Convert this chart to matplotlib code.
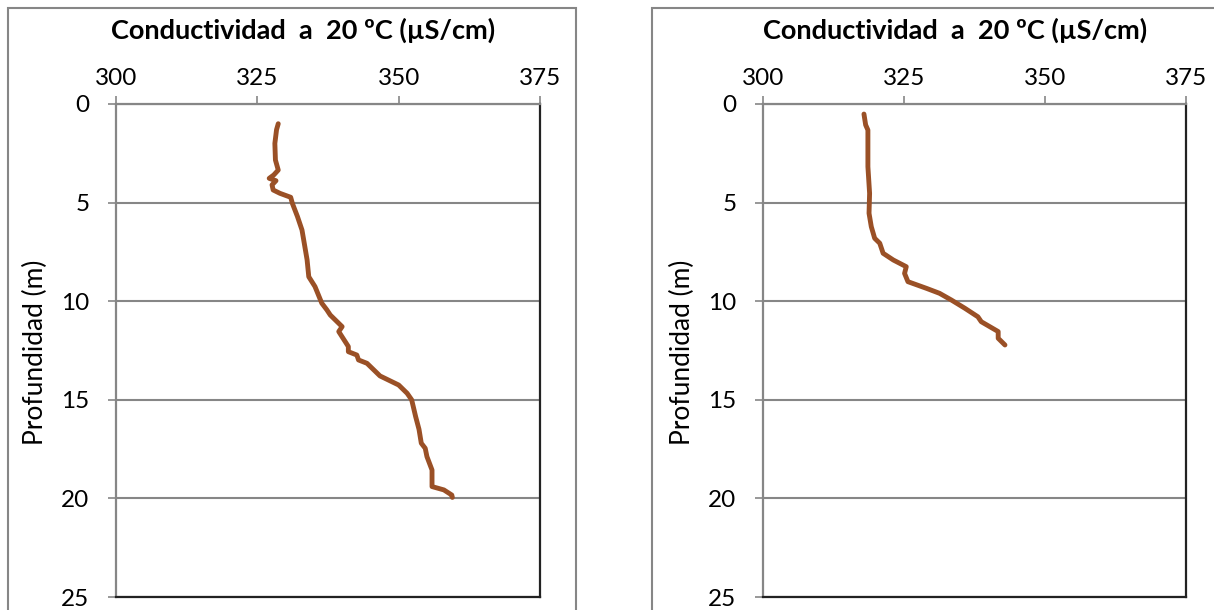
import matplotlib
matplotlib.use("Agg")
import matplotlib.pyplot as plt
from matplotlib.patches import Rectangle

plt.rcParams['font.family'] = ['Lato', 'DejaVu Sans']

title = "Conductividad  a  20 ºC (µS/cm)"
ylabel = "Profundidad (m)"
xticks = [300, 325, 350, 375]
yticks = [0, 5, 10, 15, 20, 25]

left_cond = [328.7, 328.4, 328.1, 328.2, 328.7, 327.9, 327.1, 328.3, 327.6, 327.8, 329.0, 330.9,
             331.2, 332.1, 332.9, 333.3, 333.8, 334.1, 335.2, 336.4, 337.3, 337.9, 340.0, 339.4,
             341.1, 341.1, 342.6, 342.9, 344.4, 346.7, 350.0, 351.5, 352.3, 353.0, 353.6, 354.0,
             354.7, 355.0, 355.9, 355.9, 358.0, 359.4, 359.5]
left_depth = [1.0, 1.3, 2.0, 2.84, 3.35, 3.6, 3.77, 3.89, 4.1, 4.36, 4.53, 4.73,
              5.04, 5.71, 6.39, 7.06, 7.9, 8.76, 9.26, 10.1, 10.44, 10.7, 11.29, 11.54,
              12.3, 12.56, 12.73, 12.98, 13.15, 13.79, 14.25, 14.67, 15.0, 15.85, 16.5, 17.2,
              17.46, 17.88, 18.56, 19.4, 19.57, 19.83, 19.95]

right_cond = [317.9, 318.2, 318.6, 318.6, 318.9, 318.8, 319.2, 319.8, 320.7, 321.3, 323.1,
              325.4, 325.1, 325.7, 329.0, 331.3, 333.4, 335.8, 338.1, 338.7, 341.7, 341.7, 342.9]
right_depth = [0.51, 1.06, 1.32, 3.18, 4.53, 5.54, 6.22, 6.81, 7.06, 7.57, 7.91,
               8.25, 8.59, 9.01, 9.35, 9.6, 9.94, 10.36, 10.79, 11.04, 11.54, 11.88, 12.22]

W, H = 1214, 610
fig = plt.figure(figsize=(W / 100, H / 100), dpi=100)

gray = '#868686'
line_color = '#9A5026'

# outer chart boxes
fig.add_artist(Rectangle((8 / W, -0.05), (576 - 8) / W, 1.05 - 8 / H,
                         transform=fig.transFigure, fill=False, edgecolor=gray, lw=1.5))
fig.add_artist(Rectangle((652 / W, -0.05), 0.5, 1.05 - 8 / H,
                         transform=fig.transFigure, fill=False, edgecolor=gray, lw=1.5))

panels = [
    (116, 540, left_cond, left_depth, 303, 35),
    (763, 1186, right_cond, right_depth, 955, 682),
]

for x0, x1, cond, depth, tcx, ylx in panels:
    ax = fig.add_axes([x0 / W, 1 - 597 / H, (x1 - x0) / W, (597 - 104) / H])
    ax.plot(cond, depth, color=line_color, lw=3.5, solid_capstyle='round', solid_joinstyle='round',
            zorder=3)
    ax.set_xlim(300, 375)
    ax.set_ylim(25, 0)
    ax.set_xticks(xticks)
    ax.set_yticks(yticks)
    ax.xaxis.tick_top()
    ax.tick_params(axis='both', direction='out', length=6, width=1.2, color=gray,
                   labelsize=17.5)
    ax.tick_params(axis='y', pad=13)
    ax.tick_params(axis='x', pad=5)
    ax.grid(axis='y', color=gray, lw=1.5)
    ax.set_axisbelow(True)
    ax.spines['top'].set_color(gray)
    ax.spines['left'].set_color(gray)
    ax.spines['right'].set_color('#222222')
    ax.spines['bottom'].set_color('#222222')
    for s in ax.spines.values():
        s.set_linewidth(1.6)
    fig.text(ylx / W, 1 - 352 / H, ylabel, rotation=90, ha='center', va='center',
             fontsize=19)
    fig.text(tcx / W, 1 - 30 / H, title, ha='center', va='center',
             fontsize=19.5, fontweight='bold')

fig.savefig('out.png', dpi=100)
